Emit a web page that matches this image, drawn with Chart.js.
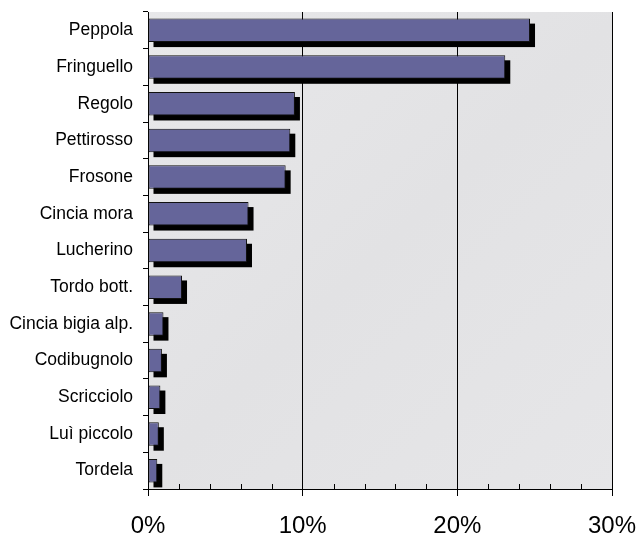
<!DOCTYPE html>
<html>
<head>
<meta charset="utf-8">
<title>Specie</title>
<script src="https://cdn.jsdelivr.net/npm/chart.js@4.4.1/dist/chart.umd.min.js"></script>
<style>
  html, body { margin: 0; padding: 0; background: #fff; }
  #chart { display: block; }
</style>
</head>
<body>
<canvas id="chart" width="640" height="536"></canvas>
<script>
const species = [
  "Peppola", "Fringuello", "Regolo", "Pettirosso", "Frosone",
  "Cincia mora", "Lucherino", "Tordo bott.", "Cincia bigia alp.",
  "Codibugnolo", "Scricciolo", "Luì piccolo", "Tordela",
];
const percent = [24.7, 23.1, 9.5, 9.2, 8.9, 6.5, 6.4, 2.2, 1.0, 0.9, 0.8, 0.7, 0.6];
const minorStep = 2;
const majorStep = 10;
const FONT = "Liberation Sans, Arial, sans-serif";

// plot background, drawn before anything else
const plotBg = {
  id: "plotBg",
  beforeDraw(chart) {
    const { ctx, chartArea: a } = chart;
    ctx.save();
    const g = ctx.createLinearGradient(a.left, a.top, a.right, a.bottom);
    g.addColorStop(0, "#e8e8ea");
    g.addColorStop(0.5, "#e2e2e4");
    g.addColorStop(1, "#e6e6e8");
    ctx.fillStyle = g;
    ctx.fillRect(a.left, a.top, a.right - a.left, a.bottom - a.top);
    ctx.restore();
  },
};

// hard black drop shadow behind every bar
const barShadow = {
  id: "barShadow",
  beforeDatasetsDraw(chart) {
    const { ctx } = chart;
    const off = 5;
    ctx.save();
    ctx.fillStyle = "#000";
    chart.getDatasetMeta(0).data.forEach((bar) => {
      const p = bar.getProps(["x", "y", "base", "height"], true);
      const left = Math.min(p.base, p.x);
      const w = Math.abs(p.x - p.base);
      ctx.fillRect(left + off, p.y - p.height / 2 + off, w, p.height);
    });
    ctx.restore();
  },
};

// short minor ticks standing up from the x axis
const minorTicks = {
  id: "minorTicks",
  afterDraw(chart) {
    const { ctx } = chart;
    const x = chart.scales.x;
    ctx.save();
    ctx.strokeStyle = "#000";
    ctx.lineWidth = 1;
    ctx.beginPath();
    for (let v = x.min; v <= x.max; v += minorStep) {
      if (v % majorStep === 0) continue;
      const px = Math.round(x.getPixelForValue(v)) + 0.5;
      ctx.moveTo(px, x.top - 5);
      ctx.lineTo(px, x.top);
    }
    ctx.stroke();
    ctx.restore();
  },
};

new Chart(document.getElementById("chart").getContext("2d"), {
  type: "bar",
  data: {
    labels: species,
    datasets: [
      {
        data: percent,
        backgroundColor: "#65659a",
        borderColor: "#111",
        borderWidth: 1,
        borderSkipped: false,
        barPercentage: 0.64,
        categoryPercentage: 1,
      },
    ],
  },
  options: {
    indexAxis: "y",
    responsive: false,
    animation: false,
    layout: { padding: { top: 12, right: 28, left: 0, bottom: 0 } },
    plugins: {
      legend: { display: false },
      tooltip: { enabled: false },
    },
    scales: {
      x: {
        min: 0,
        max: 30,
        ticks: {
          stepSize: minorStep,
          autoSkip: false,
          maxRotation: 0,
          color: "#000",
          padding: 16,
          font: { family: FONT, size: 24 },
          callback: (v) => (v % majorStep === 0 ? v + "%" : ""),
        },
        grid: {
          color: (c) => (c.tick && c.tick.value % majorStep === 0 ? "#000" : "rgba(0,0,0,0)"),
          tickColor: (c) => (c.tick && c.tick.value % majorStep === 0 ? "#000" : "rgba(0,0,0,0)"),
          tickLength: 7,
          lineWidth: 1,
        },
        border: { display: true, color: "#000" },
        afterFit: (scale) => {
          scale.height = 47;
          scale.paddingLeft = 0;
          scale.paddingRight = 0;
        },
      },
      y: {
        offset: true,
        ticks: {
          color: "#000",
          padding: 10,
          font: { family: FONT, size: 17.5 },
        },
        grid: {
          offset: true,
          drawOnChartArea: false,
          color: "#000",
          tickLength: 5,
        },
        border: { display: true, color: "#000" },
        afterFit: (scale) => {
          scale.width = 148;
          scale.paddingTop = 0;
          scale.paddingBottom = 0;
        },
      },
    },
  },
  plugins: [plotBg, barShadow, minorTicks],
});
</script>
</body>
</html>
